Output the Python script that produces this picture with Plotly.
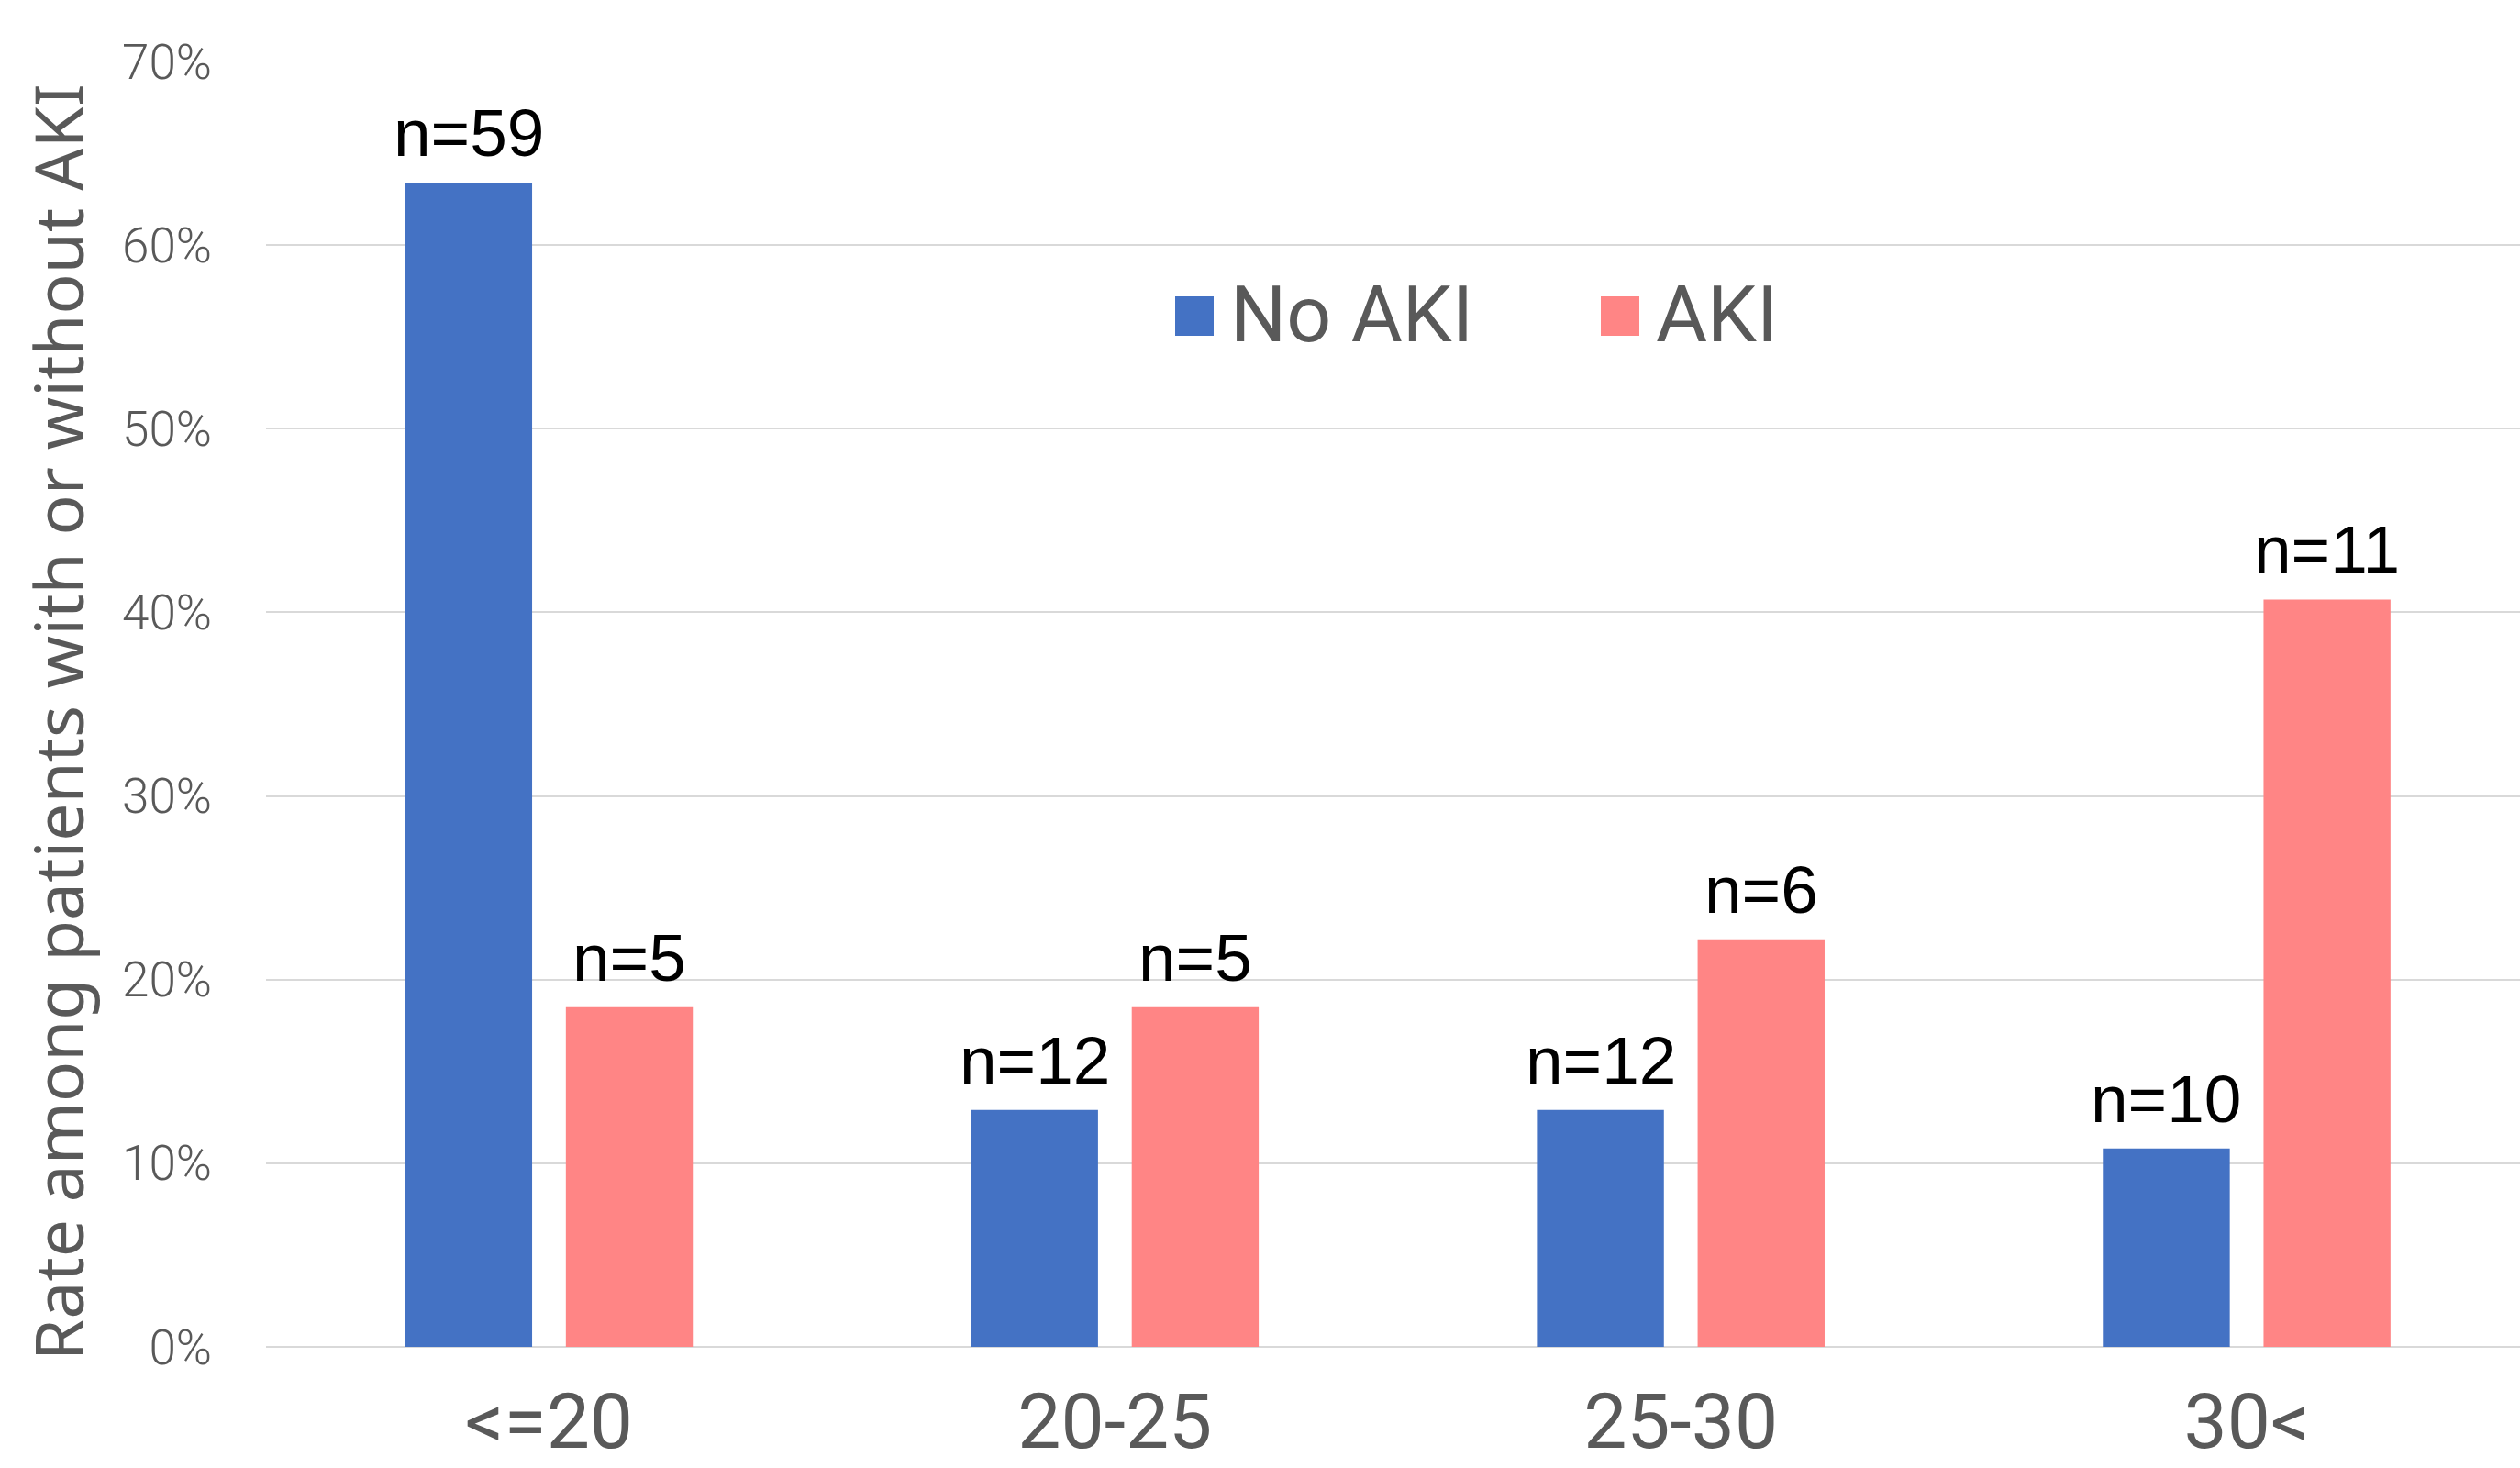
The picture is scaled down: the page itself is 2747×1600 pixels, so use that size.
import plotly.graph_objects as go

categories = ["<=20", "20-25", "25-30", "30<"]
series_names = ["No AKI", "AKI"]
no_aki_rate = [0.634, 0.129, 0.129, 0.108]
aki_rate = [0.185, 0.185, 0.222, 0.407]
no_aki_n = [59, 12, 12, 10]
aki_n = [5, 5, 6, 11]
y_ticks = [0, 0.1, 0.2, 0.3, 0.4, 0.5, 0.6, 0.7]
y_title = "Rate among patients with or without AKI"
colors = ["#4472C4", "#FF8585"]

W, H = 2747, 1600
L, R, T, B = 290, 0, 67, 132
BARGAP = 0.432
X_RANGE = [-0.5, 3.483]

pw = W - L - R
ph = H - T - B
cat_px = pw / (X_RANGE[1] - X_RANGE[0])
slot_px = (1 - BARGAP) / 2 * cat_px

def px(x):
    return (x - L) / pw
def py(y):
    return (H - B - y) / ph

fig = go.Figure()
series = [(series_names[0], no_aki_rate, no_aki_n, colors[0]),
          (series_names[1], aki_rate, aki_n, colors[1])]
for i, (name, vals, ns, col) in enumerate(series):
    fig.add_trace(go.Bar(
        x=categories, y=vals, name=name,
        marker=dict(color=col, line=dict(width=0)),
        showlegend=False,
    ))
    for c, v, n in zip(categories, vals, ns):
        fig.add_annotation(
            x=c, y=v, xref="x", yref="y", text=f"n={n}", showarrow=False,
            xanchor="center", yanchor="bottom",
            xshift=(i - 0.5) * slot_px, yshift=12,
            font=dict(family="Liberation Sans, Arial", size=73, color="#000000"),
        )

# manual legend (large square swatches)
legend_items = [(series_names[0], colors[0], 1281), (series_names[1], colors[1], 1745)]
for name, col, x0 in legend_items:
    fig.add_shape(type="rect", xref="paper", yref="paper",
                  x0=px(x0), x1=px(x0 + 42), y0=py(366), y1=py(323),
                  fillcolor=col, line=dict(width=0))
    fig.add_annotation(xref="paper", yref="paper", x=px(x0 + 58), y=py(342),
                       xanchor="left", yanchor="middle", text=name, showarrow=False,
                       font=dict(family="Roboto", size=86, color="#595959"))

# y-axis title
fig.add_annotation(xref="paper", yref="paper", x=px(62), y=py(787),
                   xanchor="center", yanchor="middle", textangle=-90,
                   text=y_title, showarrow=False,
                   font=dict(family="Noto Sans", size=73, color="#595959"))

fig.update_layout(
    width=W, height=H,
    margin=dict(l=L, r=R, t=T, b=B, pad=0, autoexpand=False),
    plot_bgcolor="white", paper_bgcolor="white",
    barmode="group", bargap=BARGAP, bargroupgap=0.21,
    showlegend=False,
)
fig.update_xaxes(
    range=X_RANGE,
    automargin=False,
    tickfont=dict(family="Roboto", size=84, color="#595959"),
    ticks="outside", ticklen=8, tickcolor="rgba(0,0,0,0)",
    showline=False, showgrid=False,
)
fig.update_yaxes(
    range=[0, 0.7],
    automargin=False,
    tickvals=y_ticks,
    tickformat=".0%",
    tickfont=dict(family="Roboto", size=53, color="#595959", weight=300),
    ticklabelstandoff=58,
    showgrid=True, gridcolor="#D9D9D9", gridwidth=2,
    zeroline=True, zerolinecolor="#D9D9D9", zerolinewidth=2,
    showline=False,
)

fig.write_html("out.html")
